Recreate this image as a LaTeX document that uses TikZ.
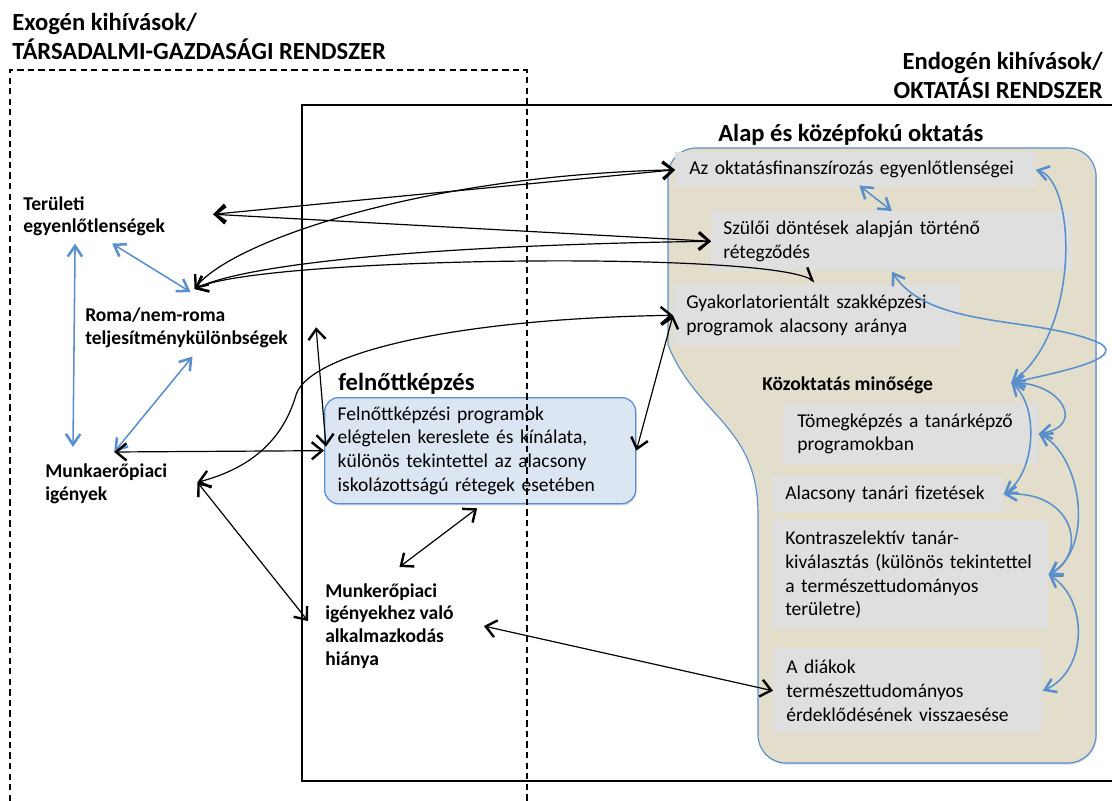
\documentclass[tikz,border=0pt]{standalone}
\usepackage{fontspec}
\setmainfont{Carlito}
\usetikzlibrary{arrows.meta, calc, shadows}
\definecolor{eduband}{HTML}{E3DECB}
\definecolor{edublue}{HTML}{5A8FCD}
\definecolor{cellgray}{HTML}{DFDFDF}
\definecolor{adultfill}{HTML}{DCE6F2}
\newcommand{\bodyfnt}{\fontsize{13.9}{16.8}\selectfont}
\newcommand{\lblfnt}{\bfseries\fontsize{13.9}{16.3}\selectfont}
\newcommand{\headfnt}{\bfseries\fontsize{17.5}{20.7}\selectfont}

\begin{document}
\begin{tikzpicture}[x=0.025cm, y=-0.025cm,
    head/.style={anchor=north west, inner sep=0, align=left, font=\headfnt},
    lbl/.style={anchor=north west, inner sep=0, align=left, font=\lblfnt},
    cell/.style={anchor=north west, fill=cellgray, align=left, font=\bodyfnt,
                 inner ysep=0},
    shade/.style={drop shadow={shadow xshift=0.6pt, shadow yshift=-1.2pt, opacity=0.3}},
    link/.style={>={Straight Barb[length=2.6mm,width=4.3mm,line width=1.7pt]}, <->,
                 line width=0.85pt},
    blink/.style={>={Straight Barb[length=2.7mm,width=3.6mm,line width=1.8pt]}, <->,
                  edublue, line width=1.1pt}
  ]
  \useasboundingbox (0,0) rectangle (1112,801);

  \draw[line width=1pt] (1112,105) -- (302,105) -- (302,781) -- (1112,781);

  \draw[edublue, line width=0.8pt, fill=eduband, shade]
    (668,176) .. controls (668,160.5) and (680.5,148) .. (696,148) -- (1068,148)
    .. controls (1083.5,148) and (1096,160.5) .. (1096,176) -- (1096,735)
    .. controls (1096,750.5) and (1083.5,763) .. (1068,763) -- (786,763)
    .. controls (770.5,763) and (758,750.5) .. (758,735) -- (758,515)
    .. controls (758,425) and (698,418) .. (668,345) -- cycle;

  \node[head] (exo) at (12,13) {Exogén kihívások/\\TÁRSADALMI-GAZDASÁGI RENDSZER};
  \node[head, anchor=north east, align=right] (endo) at (1103,52) {Endogén kihívások/\\OKTATÁSI RENDSZER};
  \node[head, anchor=base west] (alap) at (718,142) {Alap és középfokú oktatás};
  \node[head, anchor=base west] (felnott) at (338,390) {felnőttképzés};
  \node[lbl, anchor=base west] (kozokt) at (762,390) {Közoktatás minősége};

  \node[cell, text width=8.3cm, inner xsep=0.35cm, minimum height=0.875cm] (az) at (675,152)
    {Az oktatásfinanszírozás egyenlőtlenségei};
  \node[cell, text width=8.425cm, inner xsep=0.3cm, minimum height=1.5cm] (szul) at (711,211)
    {Szülői döntések alapján történő\\rétegződés};
  \node[cell, text width=6.525cm, inner xsep=0.325cm, minimum height=1.5cm] (gyak) at (673,285)
    {Gyakorlatorientált szakképzési\\programok alacsony aránya};
  \node[cell, text width=5.675cm, inner xsep=0.35cm, minimum height=1.525cm] (tomeg) at (783,403)
    {Tömegképzés a tanárképző\\programokban};
  \node[cell, text width=5.125cm, inner xsep=0.325cm, minimum height=0.9cm] (fizet) at (772,476)
    {Alacsony tanári fizetések};
  \node[cell, text width=6.25cm, inner xsep=0.325cm, minimum height=2.725cm] (kontra) at (772,520)
    {Kontraszelektív tanár-\\kiválasztás (különös tekintettel\\a természettudományos\\területre)};
  \node[cell, text width=6.075cm, inner xsep=0.325cm, minimum height=2.125cm] (diak) at (773,648)
    {A diákok\\természettudományos\\érdeklődésének visszaesése};

  \node[lbl] (terul) at (23,196) {Területi\\egyenlőtlenségek};
  \node[lbl] (roma) at (85,308) {Roma/nem-roma\\teljesítménykülönbségek};
  \node[lbl] (munka) at (45,464) {Munkaerőpiaci\\igények};
  \node[lbl] (hiany) at (325,583) {Munkerőpiaci\\igényekhez való\\alkalmazkodás\\hiánya};

  \node[anchor=north west, draw=edublue, line width=0.9pt, fill=adultfill, rounded corners=0.35cm,
        text width=7.125cm, inner xsep=0.325cm, minimum height=2.65cm, align=left,
        font=\bodyfnt, shade] (felbox) at (324,397)
    {Felnőttképzési programok\\elégtelen kereslete és kínálata,\\különös tekintettel az alacsony\\iskolázottságú rétegek esetében};

  \coordinate (kq) at ($(kozokt.east)+(78,-2)$);

  \draw[blink] ($(terul.south)+(-19,7)$) -- ($(munka.north west)+(28,-17)$);
  \draw[blink] ($(terul.south)+(18,7)$) -- ($(roma.north)+(4,-16)$);
  \draw[blink] ($(roma.south)+(6,8)$) -- ($(munka.north)+(8,-12)$);
  \draw[blink] ($(az.south)+(4,-2)$) -- (szul.north);
  \draw[blink] (szul.south) .. controls +(38.5,59) and +(-60,-28) .. ++(208.5,72)
    .. controls +(25,15) and +(50,-11) .. (kq);
  \draw[blink] (az.east) .. controls +(40,11) and +(70,-53) .. (kq);
  \draw[blink] (kq) .. controls +(50,0) and +(48,-8) .. (tomeg.east);
  \draw[blink] (kq) .. controls +(28,24) and +(32,-22) .. (fizet.east);
  \draw[blink] (tomeg.east) .. controls +(42,21) and +(47,-28) .. (kontra.east);
  \draw[blink] (fizet.east) .. controls +(70,-4) and +(40,-22) .. (kontra.east);
  \draw[blink] (kontra.east) .. controls +(40,25) and +(45,-20) .. (diak.east);

  \draw[link] ($(terul.east)+(48,-2)$) -- (az.west);
  \draw[link] ($(terul.east)+(48,-2)$) -- (szul.west);
  \draw[link] ($(roma.north)+(8,-19)$) .. controls +(36,-47) and +(-255,6) .. (az.west);
  \draw[link] ($(roma.north)+(8,-19)$) .. controls +(56,-27) and +(-261,3.5) .. (szul.west);
  \draw[link, <-{Straight Barb[harpoon,length=2.6mm,width=4.3mm,line width=1.7pt]}]
    ($(roma.north)+(8,-19)$) .. controls +(66,-32) and +(-55,-31) .. ($(szul.south west)+(104,10)$);
  \draw[link] ($(munka.north)+(8,-12)$) -- (felbox.west);
  \draw[link] ($(roma.east)+(28,-1)$) -- ($(felbox.west)+(2,-4)$);
  \draw[link] ($(munka.east)+(30,-2)$) .. controls +(65,-17) and +(-10,35) .. ++(99,-88.5)
    .. controls +(15,-40) and +(-223,3.5) .. (gyak.west);
  \draw[link] (gyak.west) -- (felbox.east);
  \draw[link] ($(felbox.south)+(-3,4)$) -- ($(hiany.north)+(10,-16)$);
  \draw[link] ($(munka.east)+(30,-2)$) -- ($(hiany.west)+(-17,-5)$);
  \draw[link] ($(hiany.east)+(30,0)$) -- (diak.west);

  \draw[line width=0.9pt, dash pattern=on 4.5pt off 3pt] (10,801) -- (10,70) -- (527,70) -- (527,801);
\end{tikzpicture}
\end{document}
